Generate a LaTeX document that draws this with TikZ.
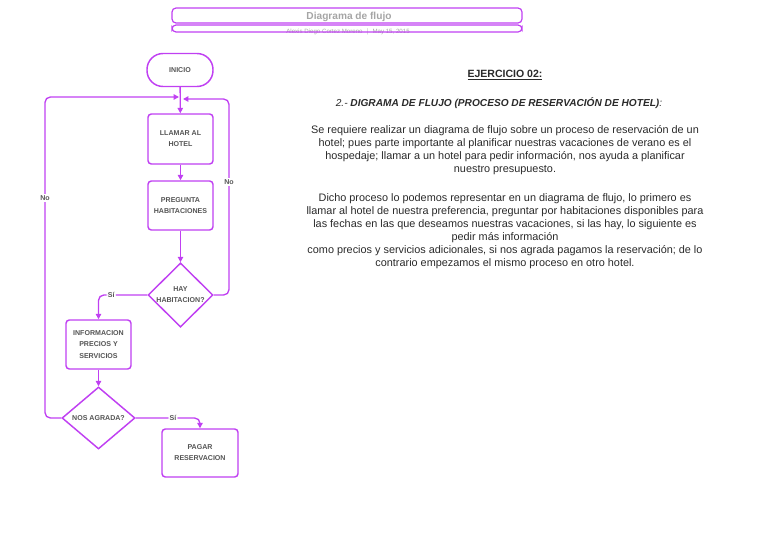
\documentclass[tikz,border=0pt]{standalone}
\usepackage{fontspec}
\setmainfont{Liberation Sans}
\usetikzlibrary{shapes.geometric,arrows.meta}
\definecolor{vio}{HTML}{C040F2}
\definecolor{lbl}{HTML}{555555}
\definecolor{ttl}{HTML}{A5A5A5}
\definecolor{body}{HTML}{2A2A2A}
\begin{document}
\begin{tikzpicture}[x=0.75pt,y=-0.75pt,
  shp/.style={draw=vio, line width=1.1pt, fill=white, align=center, inner sep=0pt,
    font=\fontsize{5.3}{8.3}\selectfont\bfseries, text=lbl},
  box/.style={shp, rectangle, rounded corners=2.5pt},
  term/.style={shp, rectangle, rounded corners=12pt},
  dec/.style={shp, diamond},
  conn/.style={draw=vio, line width=1pt, -{Triangle[length=4pt,width=4pt]}, rounded corners=4pt},
  tag/.style={fill=white, inner sep=1pt, font=\fontsize{5.3}{6}\selectfont\bfseries, text=lbl},
  para/.style={align=center, text=body, font=\fontsize{8.15}{9.8}\selectfont},
  hdr/.style={draw=vio, line width=0.9pt, rounded corners=3pt}
]
\useasboundingbox (0,0) rectangle (768,543);
% header
\node[font=\fontsize{4.6}{5}\selectfont, text=ttl] (sub) at (348,31.5) {Alexis Diego Cortez Moreno \ $|$ \ May 15, 2015};
\draw[hdr, fill=none] (172,8) rectangle (522,23);
\draw[hdr] (172,25) rectangle (522,32);
\node[font=\fontsize{7.6}{8}\selectfont\bfseries, text=ttl] (title) at (349,16.5) {Diagrama de flujo};
% flowchart nodes
\node[term, minimum width=49.5pt, minimum height=24.75pt] (inicio) at (180,70) {INICIO};
\node[box, minimum width=48.75pt, minimum height=37.5pt] (llamar) at (180.5,139) {LLAMAR AL\\HOTEL};
\node[box, minimum width=48.75pt, minimum height=36.75pt] (preg) at (180.5,205.5) {PREGUNTA\\HABITACIONES};
\node[dec, minimum width=48.75pt, minimum height=48pt] (hay) at (180.5,295) {HAY\\HABITACION?};
\node[box, minimum width=48.75pt, minimum height=36.75pt] (info) at (98.5,344.5) {INFORMACION\\PRECIOS Y\\SERVICIOS};
\node[dec, minimum width=54.75pt, minimum height=46.5pt] (nos) at (98.5,418) {NOS AGRADA?};
\node[box, minimum width=57pt, minimum height=36pt] (pagar) at (200,453) {PAGAR\\RESERVACION};
\coordinate (jl) at (179,97);
\coordinate (jr) at (183,99);
\coordinate (lc) at (45,97);
\coordinate (rc) at (229,99);
% connectors
\draw[conn] (inicio) -- (llamar);
\draw[conn] (llamar) -- (preg);
\draw[conn] (preg) -- (hay);
\draw[conn] (hay.west) -| node[tag, pos=0.37] (si1) {Sí} (info.north);
\draw[conn] (info) -- (nos);
\draw[conn] (nos.east) -| node[tag, pos=0.29] (si2) {Sí} (pagar.north);
\draw[conn] (nos.west) -| (lc) -- (jl);
\draw[conn] (hay.east) -| (rc) -- (jr);
\node[tag] (no1) at (45,198) {No};
\node[tag] (no2) at (229,182) {No};
% text
\node[font=\fontsize{7.9}{10}\selectfont\bfseries, text=body] (ej) at (505,75) {\underline{EJERCICIO 02:}};
\node[font=\fontsize{7.6}{10}\selectfont\itshape, text=body] (sub2) at (499,103) {2.- \textbf{DIGRAMA DE FLUJO (PROCESO DE RESERVACIÓN DE HOTEL)}:};
\node[para] (p1) at (505,150.5) {Se requiere realizar un diagrama de flujo sobre un proceso de reservación de un\\hotel; pues parte importante al planificar nuestras vacaciones de verano es el\\hospedaje; llamar a un hotel para pedir información, nos ayuda a planificar\\nuestro presupuesto.};
\node[para] (p2) at (505,231.5) {Dicho proceso lo podemos representar en un diagrama de flujo, lo primero es\\llamar al hotel de nuestra preferencia, preguntar por habitaciones disponibles para\\las fechas en las que deseamos nuestras vacaciones, si las hay, lo siguiente es\\pedir más información\\como precios y servicios adicionales, si nos agrada pagamos la reservación; de lo\\contrario empezamos el mismo proceso en otro hotel.};
\end{tikzpicture}
\end{document}
